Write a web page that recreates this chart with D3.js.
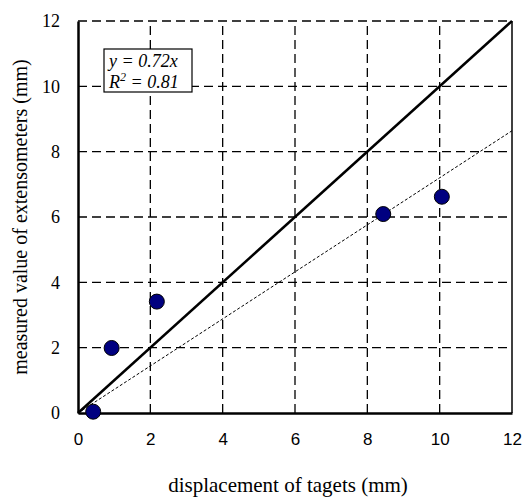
<!DOCTYPE html>
<html>
<head>
<meta charset="utf-8">
<script src="https://cdn.jsdelivr.net/npm/d3@7"></script>
<style>
  body { margin: 0; background: #fff; }
  svg { display: block; }
</style>
</head>
<body>
<div id="chart"></div>
<script>
// measured points (displacement of targets, extensometer value), mm
const dispX = [0.42, 0.93, 2.18, 8.44, 10.06];
const measY = [0.04, 1.99, 3.41, 6.09, 6.62];
const ticks = [0, 2, 4, 6, 8, 10, 12];
const slopeFit = 0.72;
const fitLabel = ["y = 0.72x", "R", "2", " = 0.81"];

const width = 527, height = 500;
const margin = { left: 78, right: 15, top: 21, bottom: 87 };
const serif = "Liberation Serif, Times New Roman, serif";

const svg = d3.select("#chart").append("svg")
  .attr("width", width)
  .attr("height", height);

const x = d3.scaleLinear().domain([0, 12]).range([margin.left, width - margin.right]);
const y = d3.scaleLinear().domain([0, 12]).range([height - margin.bottom, margin.top]);

////////////////////////////////////////////////////////////////////////////////////

// dashed grid
const grid = svg.append("g")
  .attr("stroke", "#000")
  .attr("stroke-width", 1.3)
  .attr("stroke-dasharray", "9,5");

grid.selectAll("line.gx")
  .data(ticks.filter(d => d > 0 && d < 12))
  .enter().append("line")
  .attr("x1", d => x(d)).attr("x2", d => x(d))
  .attr("y1", y(0)).attr("y2", y(12));

grid.selectAll("line.gy")
  .data(ticks.filter(d => d > 0))
  .enter().append("line")
  .attr("x1", x(0)).attr("x2", x(12))
  .attr("y1", d => y(d)).attr("y2", d => y(d));

// right frame
svg.append("line")
  .attr("x1", x(12)).attr("x2", x(12))
  .attr("y1", y(0)).attr("y2", y(12))
  .attr("stroke", "#000").attr("stroke-width", 1.5);

// 1:1 line
svg.append("line")
  .attr("x1", x(0)).attr("y1", y(0))
  .attr("x2", x(12)).attr("y2", y(12))
  .attr("stroke", "#000").attr("stroke-width", 2.5);

// regression line
svg.append("line")
  .attr("x1", x(0)).attr("y1", y(0))
  .attr("x2", x(12)).attr("y2", y(12 * slopeFit))
  .attr("stroke", "#000").attr("stroke-width", 1)
  .attr("stroke-dasharray", "3,2");

// axes
const xAxis = svg.append("g")
  .attr("transform", `translate(0,${y(0)})`)
  .call(d3.axisBottom(x).tickValues(ticks).tickSize(0).tickPadding(20));
xAxis.select(".domain").attr("stroke-width", 2.5);
xAxis.selectAll("text")
  .attr("font-family", "Liberation Sans, Arial, sans-serif")
  .attr("font-size", 17).attr("fill", "#000");

const yAxis = svg.append("g")
  .attr("transform", `translate(${x(0)},0)`)
  .call(d3.axisLeft(y).tickValues(ticks).tickSize(0).tickPadding(18));
yAxis.select(".domain").attr("stroke-width", 2.5);
yAxis.selectAll("text")
  .attr("font-family", serif)
  .attr("font-size", 18).attr("fill", "#000");

// points
svg.append("g")
  .selectAll("circle")
  .data(dispX.map((d, i) => [d, measY[i]]))
  .enter().append("circle")
  .attr("cx", d => x(d[0]))
  .attr("cy", d => y(d[1]))
  .attr("r", 7.5)
  .attr("fill", "#000080")
  .attr("stroke", "#000")
  .attr("stroke-width", 1);

// fit box
svg.append("rect")
  .attr("x", 104).attr("y", 49)
  .attr("width", 88).attr("height", 43)
  .attr("fill", "#fff").attr("stroke", "#000").attr("stroke-width", 1.2);

svg.append("text")
  .attr("x", 109).attr("y", 67)
  .attr("font-family", serif).attr("font-style", "italic")
  .attr("font-size", 18).attr("fill", "#000")
  .text(fitLabel[0]);

const r2 = svg.append("text")
  .attr("x", 109).attr("y", 88)
  .attr("font-family", serif).attr("font-style", "italic")
  .attr("font-size", 18).attr("fill", "#000");
r2.append("tspan").text(fitLabel[1]);
r2.append("tspan").attr("font-size", 12).attr("dy", -7).text(fitLabel[2]);
r2.append("tspan").attr("dy", 7).text(fitLabel[3]);

// axis titles
svg.append("text")
  .attr("x", 288).attr("y", 492)
  .attr("text-anchor", "middle")
  .attr("font-family", serif)
  .attr("font-size", 21)
  .text("displacement of tagets (mm)");

svg.append("text")
  .attr("transform", `translate(27,${(y(0) + y(12)) / 2}) rotate(-90)`)
  .attr("text-anchor", "middle")
  .attr("font-family", serif)
  .attr("font-size", 20)
  .text("measured value of extensometers (mm)");
</script>
</body>
</html>
